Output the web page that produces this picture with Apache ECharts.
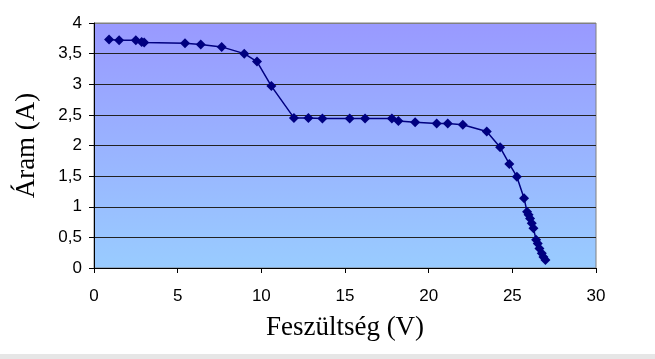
<!DOCTYPE html>
<html><head><meta charset="utf-8">
<script src="https://cdn.jsdelivr.net/npm/echarts@6/dist/echarts.min.js"></script>
<style>html,body{margin:0;padding:0;background:#fff}#c{width:655px;height:359px}</style>
</head><body><div id="c"></div>
<script>
var voltage = [0.9, 1.5, 2.5, 2.85, 3.0, 5.44, 6.38, 7.63, 8.98, 9.74, 10.6, 11.95, 12.81, 13.65, 15.28, 16.2, 17.8, 18.19, 19.19, 20.48, 21.14, 22.04, 23.47, 24.27, 24.82, 25.27, 25.7, 25.88, 25.97, 26.06, 26.16, 26.26, 26.42, 26.52, 26.62, 26.76, 26.86, 26.98];
var current = [3.73, 3.72, 3.72, 3.69, 3.68, 3.67, 3.65, 3.61, 3.50, 3.37, 2.97, 2.45, 2.45, 2.44, 2.44, 2.44, 2.44, 2.40, 2.38, 2.36, 2.36, 2.34, 2.23, 1.97, 1.70, 1.49, 1.14, 0.92, 0.87, 0.81, 0.73, 0.65, 0.46, 0.40, 0.32, 0.24, 0.18, 0.13];
var xTitle = 'Feszültség (V)';
var yTitle = 'Áram (A)';

var pts = voltage.map(function(v, i){ return [v, current[i]]; });
var chart = echarts.init(document.getElementById('c'), null, {renderer:'canvas'});
chart.setOption({
  animation: false,
  backgroundColor: '#fff',
  grid: {left: 94, right: 59, top: 23, bottom: 91, show: true, borderColor: '#808080', borderWidth: 1,
    backgroundColor: new echarts.graphic.LinearGradient(0, 0, 0, 1, [{offset: 0, color: '#9999FF'}, {offset: 1, color: '#99CCFF'}])},
  xAxis: {type: 'value', min: 0, max: 30, interval: 5,
    name: xTitle, nameLocation: 'middle', nameGap: 46,
    nameTextStyle: {fontFamily: 'Liberation Serif', fontSize: 27, color: '#000'},
    axisLine: {show: true, lineStyle: {color: '#000', width: 1}},
    axisTick: {show: true, length: 5, lineStyle: {color: '#000'}},
    axisLabel: {fontFamily: 'Liberation Sans', fontSize: 17, color: '#000', margin: 20},
    splitLine: {show: false}},
  yAxis: {type: 'value', min: 0, max: 4, interval: 0.5,
    name: yTitle, nameLocation: 'middle', nameGap: 54,
    nameTextStyle: {fontFamily: 'Liberation Serif', fontSize: 27, color: '#000'},
    axisLine: {show: true, lineStyle: {color: '#000', width: 1}},
    axisTick: {show: true, length: 5, lineStyle: {color: '#000'}},
    axisLabel: {fontFamily: 'Liberation Sans', fontSize: 17, color: '#000', margin: 12,
      formatter: function(v){ return String(v).replace('.', ','); }},
    splitLine: {show: true, lineStyle: {color: ['#000','#222','#222','#222','#222','#222','#222','#222','#808080'], width: 1}}},
  series: [{type: 'line', data: pts, symbol: 'diamond', symbolSize: 10,
    itemStyle: {color: '#000080'}, lineStyle: {color: '#000080', width: 1.5}}],
  graphic: [{type: 'rect', shape: {x: 0, y: 354, width: 655, height: 5}, style: {fill: '#e6e6e6'}, silent: true}]
});
</script></body></html>
